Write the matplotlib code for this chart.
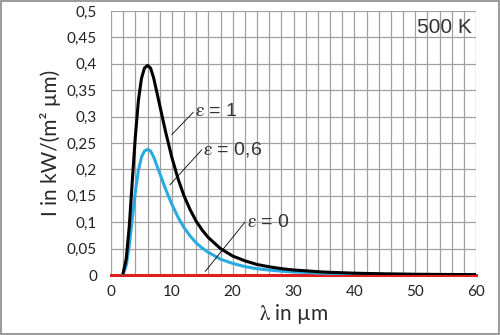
import matplotlib
matplotlib.use('Agg')
import matplotlib.pyplot as plt
from matplotlib.patches import Rectangle

plt.rcParams.update({
    'font.family': ['Lato', 'DejaVu Sans'],
    'mathtext.fontset': 'stix',
})

# wavelength (µm) and spectral intensity (kW/(m² µm))
lam = [2, 2.5, 3, 3.5, 4, 4.5, 5, 5.5, 6, 6.5, 7, 8, 9, 10, 11, 12, 13, 14, 15, 16,
       18, 20, 22, 24, 26, 28, 30, 35, 40, 45, 50, 55, 60]
I_black = [0.004, 0.030, 0.092, 0.178, 0.262, 0.330, 0.372, 0.392, 0.397, 0.392, 0.374,
           0.322, 0.270, 0.223, 0.183, 0.150, 0.124, 0.102, 0.085, 0.071,
           0.050, 0.036, 0.027, 0.020, 0.0156, 0.0121, 0.0096, 0.0056, 0.0035, 0.0023,
           0.0015, 0.0011, 0.0008]
I_grey = [0.002, 0.018, 0.055, 0.107, 0.157, 0.198, 0.223, 0.235, 0.238, 0.235, 0.224,
          0.193, 0.162, 0.134, 0.110, 0.090, 0.074, 0.061, 0.051, 0.043,
          0.030, 0.022, 0.016, 0.012, 0.0094, 0.0073, 0.0058, 0.0034, 0.0021, 0.0014,
          0.0009, 0.0007, 0.0005]
lam_zero = [0, 60]
I_zero = [0, 0]

fig = plt.figure(figsize=(5, 3.35), dpi=100)
ax = fig.add_axes([0.222, 0.179, 0.73, 0.788])

ax.plot(lam_zero, I_zero, color='#e0201e', lw=2.2, zorder=3, clip_on=False)
ax.plot(lam, I_grey, color='#29abe2', lw=2.2, zorder=4)
ax.plot(lam, I_black, color='black', lw=2.2, zorder=5)

ax.set_xlim(0, 60)
ax.set_ylim(0, 0.5)
ax.set_xticks(range(0, 61, 10))
ax.set_xticks(range(0, 61, 2), minor=True)
yt = [i * 0.05 for i in range(11)]
ax.set_yticks(yt)
ax.set_yticklabels(['0', '0,05', '0,1', '0,15', '0,2', '0,25', '0,3', '0,35', '0,4', '0,45', '0,5'])
ax.grid(True, which='both', color='#a0a0a0', lw=0.9)
ax.set_axisbelow(True)
ax.tick_params(which='both', length=0, labelsize=11, colors='#222222')
ax.tick_params(axis='y', pad=10)
ax.tick_params(axis='x', pad=7)
for s in ax.spines.values():
    s.set_visible(False)

ax.set_xlabel(r'$\mathrm{\lambda}$ in µm', fontsize=15, color='#2a2a2a', labelpad=2)
ax.set_ylabel('I in kW/(m² µm)', fontsize=15, color='#2a2a2a', labelpad=4)

# curve labels with leader lines
lab = dict(fontsize=14, family='Liberation Sans', color='#333333', va='center')
ax.plot([10.0, 13.5], [0.266, 0.308], color='black', lw=0.6, zorder=6)
ax.text(13.8, 0.310, r'$\mathrm{\varepsilon}$ = 1', **lab)
ax.plot([9.7, 14.9], [0.171, 0.237], color='black', lw=0.6, zorder=6)
ax.text(15.2, 0.237, r'$\mathrm{\varepsilon}$ = 0,6', **lab)
ax.plot([15.5, 22.0], [0.007, 0.100], color='black', lw=0.6, zorder=6)
ax.text(22.3, 0.099, r'$\mathrm{\varepsilon}$ = 0', **lab)

ax.text(59.3, 0.468, '500 K', fontsize=15, family='Liberation Sans', color='#333333',
        ha='right', va='center')

fig.patches.append(Rectangle((0.002, 0.003), 0.995, 0.993, transform=fig.transFigure,
                             fill=False, edgecolor='#8a8a8a', lw=1.2))

fig.savefig('out.png', dpi=100)
